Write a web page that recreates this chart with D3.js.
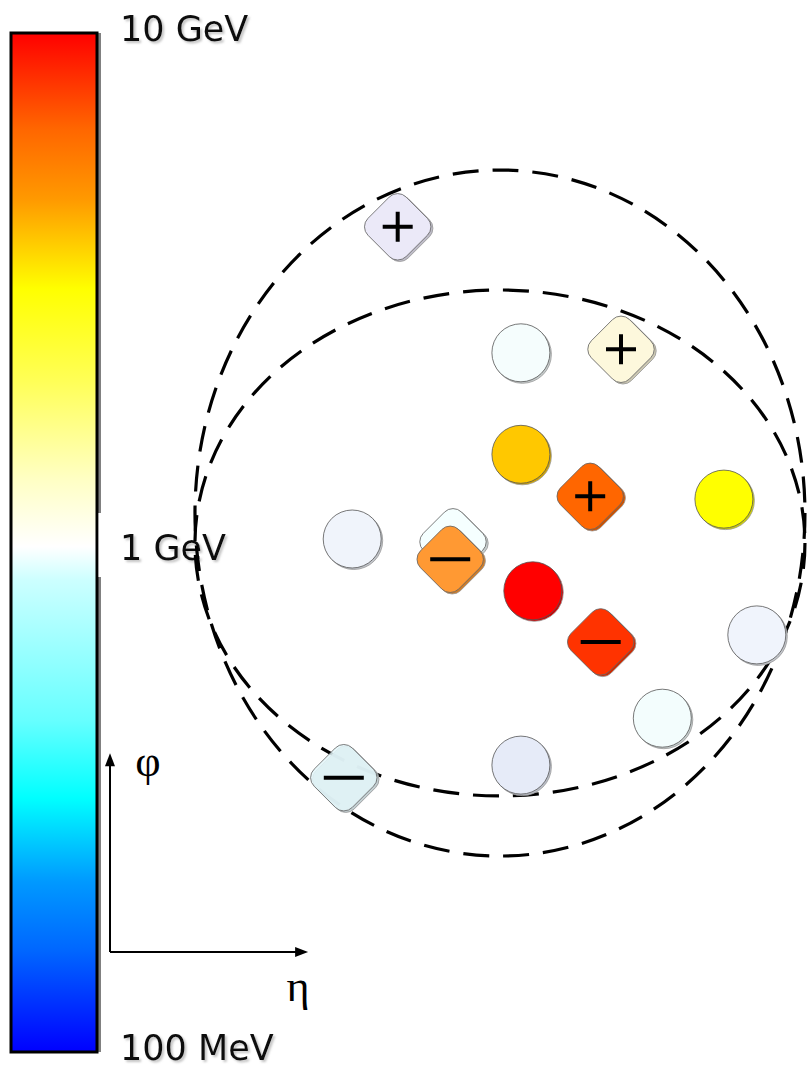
<!DOCTYPE html>
<html>
  <head>
    <meta charset="UTF-8" />
    <script src="https://d3js.org/d3.v7.min.js"></script>
    <style>
      body { margin: 0; background: #fff; }
    </style>
  </head>
  <body>
    <svg width="808" height="1068"></svg>
    <script>
      // colour bar: stop positions (0 = top) and colours, plus its labels
      const barStops = [0, 0.094, 0.163, 0.251, 0.34, 0.438, 0.504, 0.537, 0.675, 0.751, 0.833, 0.901, 1]
      const barColors = ["#ff0000", "#ff6600", "#ff9900", "#ffff00", "#ffff55", "#ffffc4", "#ffffff",
        "#ccffff", "#66ffff", "#00ffff", "#0099ff", "#0066ff", "#0000ff"]
      const barLabels = ["10 GeV", "1 GeV", "100 MeV"]

      // particles in (eta, phi) units
      const eta = [4.11, 5.87, 7.30, 5.87, 6.86, 8.77, 3.46, 4.90, 4.86, 6.04, 7.01, 9.24, 7.89, 5.87, 3.34]
      const phi = [10.36, 8.56, 8.61, 7.11, 6.51, 6.47, 5.90, 5.86, 5.61, 5.16, 4.43, 4.53, 3.34, 2.67, 2.49]
      const kind = ["+", "o", "+", "o", "+", "o", "o", "d", "-", "o", "-", "o", "o", "o", "-"]
      const fills = ["#ebe9f8", "#f5fdfd", "#fdf8dc", "#ffc800", "#ff6600", "#ffff00", "#f0f4fb", "#f5ffff",
        "#ff9933", "#ff0000", "#ff3300", "#f0f4fc", "#f3fdfd", "#e6ebf8", "#e4f7fa"]

      // cones (ellipses) in the same units
      const coneCx = [5.571, 5.571]
      const coneCy = [6.271, 5.843]
      const coneRx = [4.357, 4.357]
      const coneRy = [4.9, 3.614]

      const svg = d3.select("svg")
      const x = d3.scaleLinear().domain([0, 10]).range([110, 810])
      const y = d3.scaleLinear().domain([0, 10]).range([952, 252])
      const k = 70 // px per unit

      const defs = svg.append("defs")
      const grad = defs.append("linearGradient").attr("id", "bar")
        .attr("x1", 0).attr("y1", 0).attr("x2", 0).attr("y2", 1)
      grad.selectAll("stop").data(barStops).enter().append("stop")
        .attr("offset", d => d)
        .attr("stop-color", (d, i) => barColors[i])
      const sh = defs.append("filter").attr("id", "tshadow")
        .attr("x", "-10%").attr("y", "-20%").attr("width", "130%").attr("height", "150%")
      sh.append("feDropShadow").attr("dx", 2).attr("dy", 2).attr("stdDeviation", 1.2)
        .attr("flood-color", "#888").attr("flood-opacity", 0.5)

      // 1. colour bar
      const barTop = 33, barBot = 1052
      svg.append("rect").attr("x", 97).attr("y", barTop).attr("width", 4).attr("height", barBot - barTop)
        .attr("fill", "#808080")
      svg.append("rect").attr("x", 11).attr("y", barTop).attr("width", 86).attr("height", barBot - barTop)
        .attr("fill", "url(#bar)").attr("stroke", "#000").attr("stroke-width", 3)
      // white box behind the middle label cuts the grey edge
      svg.append("rect").attr("x", 98.5).attr("y", 513).attr("width", 5).attr("height", 64).attr("fill", "#fff")

      const labelBase = [41, 560, 1060]
      svg.selectAll(".blabel").data(barLabels).enter().append("text")
        .attr("class", "blabel")
        .attr("x", 120)
        .attr("y", (d, i) => labelBase[i])
        .attr("font-family", "DejaVu Sans, Verdana, sans-serif")
        .attr("font-size", 35)
        .attr("fill", "#111")
        .attr("filter", "url(#tshadow)")
        .text(d => d)

      // 2. cones
      svg.selectAll(".cone").data(coneCx).enter().append("ellipse")
        .attr("cx", d => x(d))
        .attr("cy", (d, i) => y(coneCy[i]))
        .attr("rx", (d, i) => coneRx[i] * k)
        .attr("ry", (d, i) => coneRy[i] * k)
        .attr("fill", "none")
        .attr("stroke", "#000")
        .attr("stroke-width", 3.2)
        .attr("stroke-dasharray", "26,14")

      // 3. particles
      const parts = svg.selectAll(".p").data(eta).enter().append("g")
        .attr("transform", (d, i) => "translate(" + x(d) + "," + y(phi[i]) + ")")

      parts.each(function (d, i) {
        const g = d3.select(this)
        const c = fills[i]
        const shade = d3.color(c).darker(0.6).formatHex()
        const op = i === 14 ? 0.85 : 1
        if (kind[i] === "o") {
          g.append("circle").attr("cx", 1.5).attr("cy", 1.5).attr("r", 29)
            .attr("fill", shade).attr("stroke", "#999").attr("stroke-width", 0.8)
          g.append("circle").attr("r", 29)
            .attr("fill", c).attr("stroke", "#555").attr("stroke-width", 0.8)
        } else {
          g.append("rect").attr("x", -27).attr("y", -27).attr("width", 54).attr("height", 54)
            .attr("rx", 12).attr("transform", "translate(2,1.5) rotate(45)")
            .attr("fill", shade).attr("fill-opacity", op).attr("stroke", "#999").attr("stroke-width", 0.8)
          g.append("rect").attr("x", -27).attr("y", -27).attr("width", 54).attr("height", 54)
            .attr("rx", 12).attr("transform", "rotate(45)")
            .attr("fill", c).attr("fill-opacity", op).attr("stroke", "#666").attr("stroke-width", 0.8)
          if (kind[i] === "+") {
            g.append("path").attr("d", "M-15,0H15M0,-15V15")
              .attr("stroke", "#000").attr("stroke-width", 4)
          } else if (kind[i] === "-") {
            g.append("path").attr("d", "M-20,0H20")
              .attr("stroke", "#000").attr("stroke-width", 4)
          }
        }
      })

      // 4. eta / phi arrows
      const ox = x(0), oy = y(0)
      const vTop = y(2.84), hEnd = x(2.83)
      svg.append("line").attr("x1", ox).attr("y1", oy).attr("x2", ox).attr("y2", vTop + 10)
        .attr("stroke", "#000").attr("stroke-width", 2)
      svg.append("line").attr("x1", ox).attr("y1", oy).attr("x2", hEnd - 10).attr("y2", oy)
        .attr("stroke", "#000").attr("stroke-width", 2)
      svg.append("path")
        .attr("d", `M${ox},${vTop}L${ox - 5},${vTop + 13}L${ox + 5},${vTop + 13}Z`)
        .attr("fill", "#000")
      svg.append("path")
        .attr("d", `M${hEnd},${oy}L${hEnd - 13},${oy - 5}L${hEnd - 13},${oy + 5}Z`)
        .attr("fill", "#000")
      svg.append("text").attr("x", 148).attr("y", 776).attr("text-anchor", "middle")
        .attr("font-family", "Liberation Serif, serif").attr("font-size", 44).text("φ")
      svg.append("text").attr("x", 298).attr("y", 1001).attr("text-anchor", "middle")
        .attr("font-family", "Liberation Serif, serif").attr("font-size", 44).text("η")
    </script>
  </body>
</html>
